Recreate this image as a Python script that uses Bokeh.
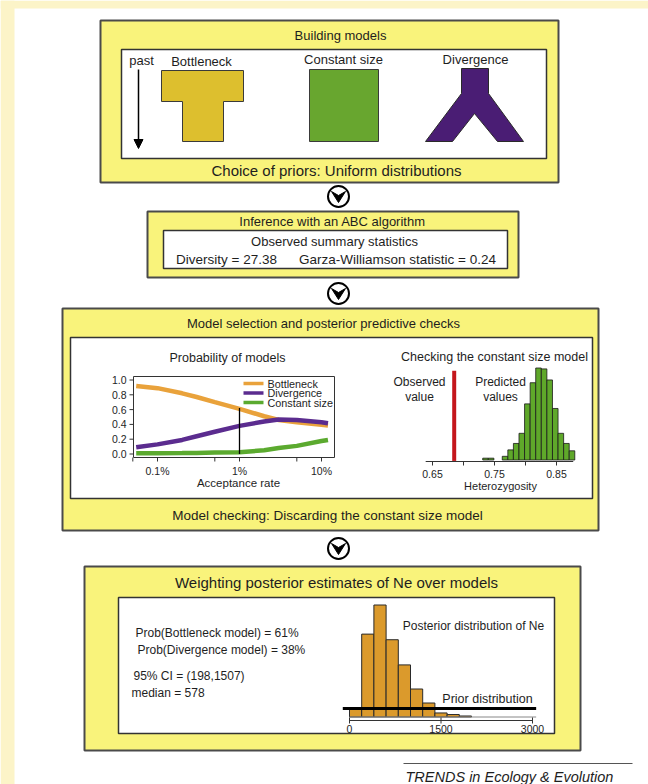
from bokeh.plotting import figure
from bokeh.models import Range1d, LogScale, Arrow, NormalHead
from bokeh.core.properties import value
from bokeh.embed import file_html
from bokeh.resources import INLINE

# ---------------- data ----------------
model_names = ["Bottleneck", "Constant size", "Divergence"]

# Probability of models vs acceptance rate
acc_rate = [0.00055, 0.001, 0.002, 0.003, 0.005, 0.01, 0.02, 0.03, 0.05, 0.1, 0.12]
p_bottleneck = [0.92, 0.89, 0.82, 0.77, 0.70, 0.61, 0.51, 0.46, 0.43, 0.395, 0.385]
p_divergence = [0.09, 0.13, 0.19, 0.24, 0.30, 0.38, 0.44, 0.465, 0.46, 0.43, 0.415]
p_constant = [0.01, 0.01, 0.012, 0.015, 0.02, 0.025, 0.05, 0.08, 0.11, 0.175, 0.19]
acc_ticks = [0.0005, 0.001, 0.005, 0.01, 0.05, 0.1]
acc_labels = {0.001: "0.1%", 0.01: "1%", 0.1: "10%"}
prob_ticks = [0.0, 0.2, 0.4, 0.6, 0.8, 1.0]
chosen_rate = 0.01
chosen_prob_top = 0.62

# Posterior predictive check: heterozygosity
het_left = [0.731, 0.740, 0.7625, 0.7715, 0.7805, 0.7895, 0.7985, 0.8075,
            0.8165, 0.8255, 0.8345, 0.8435, 0.8525, 0.8615, 0.8705]
het_width = 0.009
het_count = [2, 2, 4, 11, 18, 29, 61, 84, 100, 99, 87, 56, 29, 18, 10]
het_observed = 0.685
het_obs_top = 97
het_ticks = [0.65, 0.70, 0.75, 0.80, 0.85]
het_labels = {0.65: "0.65", 0.75: "0.75", 0.85: "0.85"}
het_axis_span = [0.639, 0.877]

# Posterior of Ne (weighted over models)
ne_left = [0, 200, 400, 600, 800, 1000, 1200, 1400, 1600, 1800]
ne_width = 200
ne_count = [80, 740, 1000, 690, 465, 250, 125, 36, 22, 9]
ne_prior_level = 75
ne_prior_span = [-110, 3060]
ne_ticks = [0, 1500, 3000]

# ---------------- styles ----------------
FONT = "Liberation Sans"
YEL = "#F9F37B"
BORDER = "#4a4a4a"
TXT = "#1e1e1e"
C_BOT = "#E9A23B"
C_DIV = "#5B2C8F"
C_CON = "#5BAA2F"

W, H = 648, 784
p = figure(width=W, height=H, x_range=Range1d(0, W), y_range=Range1d(H, 0),
           output_backend="svg", toolbar_location=None, min_border=0,
           x_axis_location=None, y_axis_location=None)
p.grid.visible = False
p.outline_line_color = None
p.background_fill_color = "white"
p.border_fill_color = "white"


def xr_lin(v0, px0, v1, px1):
    k = (px1 - px0) / (v1 - v0)
    return Range1d(v0 + (0 - px0) / k, v0 + (W - px0) / k)


def yr_lin(v0, py0, v1, py1):
    k = (py1 - py0) / (v1 - v0)
    return Range1d(v0 + (H - py0) / k, v0 + (0 - py0) / k)


# log axis for acceptance rate: 0.1% at x=157, 10% at x=321
la0, lpx0, la1, lpx1 = -3.0, 157.0, -1.0, 321.0
lk = (lpx1 - lpx0) / (la1 - la0)
p.extra_x_ranges = {
    "acc": Range1d(10 ** (la0 + (0 - lpx0) / lk), 10 ** (la0 + (W - lpx0) / lk)),
    "het": xr_lin(0.65, 432, 0.85, 556),
    "ne": xr_lin(0, 349, 3000, 532),
}
p.extra_x_scales = {"acc": LogScale()}
p.extra_y_ranges = {
    "prob": yr_lin(0.0, 453.5, 1.0, 379.5),
    "cnt": yr_lin(0, 459.5, 100, 367.5),
    "necnt": yr_lin(0, 716.5, 1000, 604.5),
}


def txt(x, y, s, size=13, align="center", style="normal", color=TXT,
        xr="default", yr="default", baseline="middle"):
    p.text(x=[x], y=[y], text=[s], text_font=value(FONT), text_font_size=f"{size}px",
           text_align=align, text_baseline=baseline, text_color=color,
           text_font_style=style, x_range_name=xr, y_range_name=yr)


def box(l, r, t, b, fill, lc=BORDER, lw=2.0):
    p.quad(left=[l], right=[r], top=[t], bottom=[b], fill_color=fill,
           line_color=lc, line_width=lw)


def down_arrow(cx, cy):
    p.scatter(x=[cx], y=[cy], size=21, marker="circle", fill_color="white",
              line_color="black", line_width=2)
    p.patch(x=[cx - 7, cx, cx + 7, cx], y=[cy - 5, cy - 1, cy - 5, cy + 6],
            fill_color="black", line_color="black", line_width=1)


# page strips
p.quad(left=[0], right=[14], top=[0], bottom=[H], fill_color="#FCF4C8", line_color=None)
p.quad(left=[0], right=[W], top=[0], bottom=[8], fill_color="#FCF4C8", line_color=None)

# ---------------- Box 1: building models ----------------
box(100, 558, 20, 182, YEL)
box(121, 546, 49, 158, "white", lc="#333333", lw=1.5)
txt(340, 35, "Building models", 13)
txt(141, 60, "past", 13)
p.add_layout(Arrow(end=NormalHead(size=9, fill_color="black", line_color="black"),
                   x_start=138, y_start=69, x_end=138, y_end=148, line_width=1.5,
                   line_color="black"))
txt(201, 61, model_names[0], 13)
txt(343, 59, model_names[1], 13)
txt(475, 59, model_names[2], 13)
bott_x = [161, 243, 243, 223, 223, 182, 182, 161]
bott_y = [70, 70, 101, 101, 141, 141, 101, 101]
p.patch(bott_x, bott_y, fill_color="#DDBF2E", line_color="#3a3a3a", line_width=1)
p.quad(left=[309], right=[378], top=[69], bottom=[141], fill_color="#68A62F",
       line_color="#3a3a3a", line_width=1)
div_x = [461, 488, 488, 523, 497, 474, 452, 425, 461]
div_y = [68, 68, 93, 141, 141, 113, 141, 141, 93]
p.patch(div_x, div_y, fill_color="#4A1D74", line_color="#2a2a2a", line_width=1)
txt(336, 170, "Choice of priors: Uniform distributions", 15)

down_arrow(338, 196)

# ---------------- Box 2: ABC inference ----------------
box(147, 518, 211, 277, YEL)
box(163, 507, 230, 268, "white", lc="#333333", lw=1.5)
txt(332, 221, "Inference with an ABC algorithm", 13)
txt(334, 241, "Observed summary statistics", 13)
txt(226, 259, "Diversity = 27.38", 13.5)
txt(397, 259, "Garza-Williamson statistic = 0.24", 13.5)

down_arrow(338, 293)

# ---------------- Box 3: model selection ----------------
box(62, 598, 308, 530, YEL)
box(70, 592, 337, 498, "white", lc="#333333", lw=1.5)
txt(323, 323, "Model selection and posterior predictive checks", 13)
txt(327, 515, "Model checking: Discarding the constant size model", 13.5)

# --- left chart: probability of models
txt(227, 357, "Probability of models", 12.5)
p.quad(left=[133], right=[334], top=[376], bottom=[457], fill_color=None,
       line_color="#333333", line_width=1)
p.line(acc_rate, p_bottleneck, x_range_name="acc", y_range_name="prob",
       line_color=C_BOT, line_width=4.5)
p.line(acc_rate, p_divergence, x_range_name="acc", y_range_name="prob",
       line_color=C_DIV, line_width=4.5)
p.line(acc_rate, p_constant, x_range_name="acc", y_range_name="prob",
       line_color=C_CON, line_width=4.5)
p.segment(x0=[chosen_rate], y0=[0.0], x1=[chosen_rate], y1=[chosen_prob_top],
          x_range_name="acc", y_range_name="prob", line_color="black", line_width=1.3)
p.segment(x0=[129] * len(prob_ticks), x1=[133] * len(prob_ticks), y0=prob_ticks,
          y1=prob_ticks, y_range_name="prob", line_color="#333333", line_width=1)
p.text(x=[126] * len(prob_ticks), y=prob_ticks, text=[f"{t:.1f}" for t in prob_ticks],
       y_range_name="prob", text_font=value(FONT), text_font_size="10.5px",
       text_align="right", text_baseline="middle", text_color=TXT)
p.segment(x0=acc_ticks, x1=acc_ticks, y0=[457] * len(acc_ticks), y1=[461] * len(acc_ticks),
          x_range_name="acc", line_color="#333333", line_width=1)
lab_x = list(acc_labels.keys())
p.text(x=lab_x, y=[470] * len(lab_x), text=[acc_labels[k] for k in lab_x],
       x_range_name="acc", text_font=value(FONT), text_font_size="10.5px",
       text_align="center", text_baseline="middle", text_color=TXT)
txt(238, 482, "Acceptance rate", 11.5)
for yy, col, name in [(383, C_BOT, "Bottleneck"), (392.5, C_DIV, "Divergence"),
                      (402, C_CON, "Constant size")]:
    p.segment(x0=[243], x1=[263], y0=[yy], y1=[yy], line_color=col, line_width=3.5)
    txt(267, yy, name, 10.8, align="left")

# --- right chart: checking the constant size model
txt(494, 356, "Checking the constant size model", 12.5)
p.quad(left=het_left, right=[v + het_width for v in het_left], bottom=[0] * len(het_left),
       top=het_count, x_range_name="het", y_range_name="cnt",
       fill_color="#5FA82A", line_color="#1a1a1a", line_width=0.8)
p.segment(x0=[het_observed], x1=[het_observed], y0=[-1], y1=[het_obs_top],
          x_range_name="het", y_range_name="cnt", line_color="#C4161C", line_width=4)
p.segment(x0=[het_axis_span[0]], x1=[het_axis_span[1]], y0=[461], y1=[461],
          x_range_name="het", line_color="#333333", line_width=1)
p.segment(x0=het_ticks, x1=het_ticks, y0=[461] * len(het_ticks), y1=[465] * len(het_ticks),
          x_range_name="het", line_color="#333333", line_width=1)
hx = list(het_labels.keys())
p.text(x=hx, y=[473.5] * len(hx), text=[het_labels[k] for k in hx], x_range_name="het",
       text_font=value(FONT), text_font_size="10.5px", text_align="center",
       text_baseline="middle", text_color=TXT)
txt(500, 485, "Heterozygosity", 11)
txt(419, 381, "Observed", 12)
txt(419, 396, "value", 12)
txt(500, 381, "Predicted", 12)
txt(500, 396, "values", 12)

down_arrow(338, 548)

# ---------------- Box 4: weighting ----------------
box(84, 580, 566, 750, YEL)
box(118, 554, 597, 733, "white", lc="#333333", lw=1.5)
txt(336, 582, "Weighting posterior estimates of Ne over models", 15)
txt(135, 632, "Prob(Bottleneck model) = 61%", 12, align="left")
txt(137, 649, "Prob(Divergence model) = 38%", 12, align="left")
txt(133, 675, "95% CI = (198,1507)", 12, align="left")
txt(131, 692, "median = 578", 12, align="left")

p.quad(left=ne_left, right=[v + ne_width for v in ne_left], bottom=[0] * len(ne_left),
       top=ne_count, x_range_name="ne", y_range_name="necnt",
       fill_color="#DB9A2C", line_color="#2a2a2a", line_width=1)
p.segment(x0=[0], x1=[ne_prior_span[1]], y0=[0], y1=[0], x_range_name="ne",
          y_range_name="necnt", line_color="#888888", line_width=1)
p.segment(x0=[ne_prior_span[0]], x1=[ne_prior_span[1]], y0=[ne_prior_level],
          y1=[ne_prior_level], x_range_name="ne", y_range_name="necnt",
          line_color="black", line_width=3)
p.segment(x0=[ne_ticks[0]], x1=[ne_ticks[-1]], y0=[720], y1=[720], x_range_name="ne",
          line_color="#333333", line_width=1)
p.segment(x0=ne_ticks, x1=ne_ticks, y0=[717] * len(ne_ticks), y1=[723] * len(ne_ticks),
          x_range_name="ne", line_color="#333333", line_width=1)
p.text(x=ne_ticks, y=[728] * len(ne_ticks), text=[str(t) for t in ne_ticks],
       x_range_name="ne", text_font=value(FONT), text_font_size="10.5px",
       text_align="center", text_baseline="middle", text_color=TXT)
txt(473, 625, "Posterior distribution of Ne", 12)
txt(487, 698, "Prior distribution", 12.5)

# ---------------- footer ----------------
p.segment(x0=[403], x1=[632], y0=[763], y1=[763], line_color="#555555", line_width=1)
txt(405, 776, "TRENDS in Ecology & Evolution", 14.5, align="left", style="italic",
    baseline="alphabetic")

open("out.html", "w").write(file_html(p, INLINE))
